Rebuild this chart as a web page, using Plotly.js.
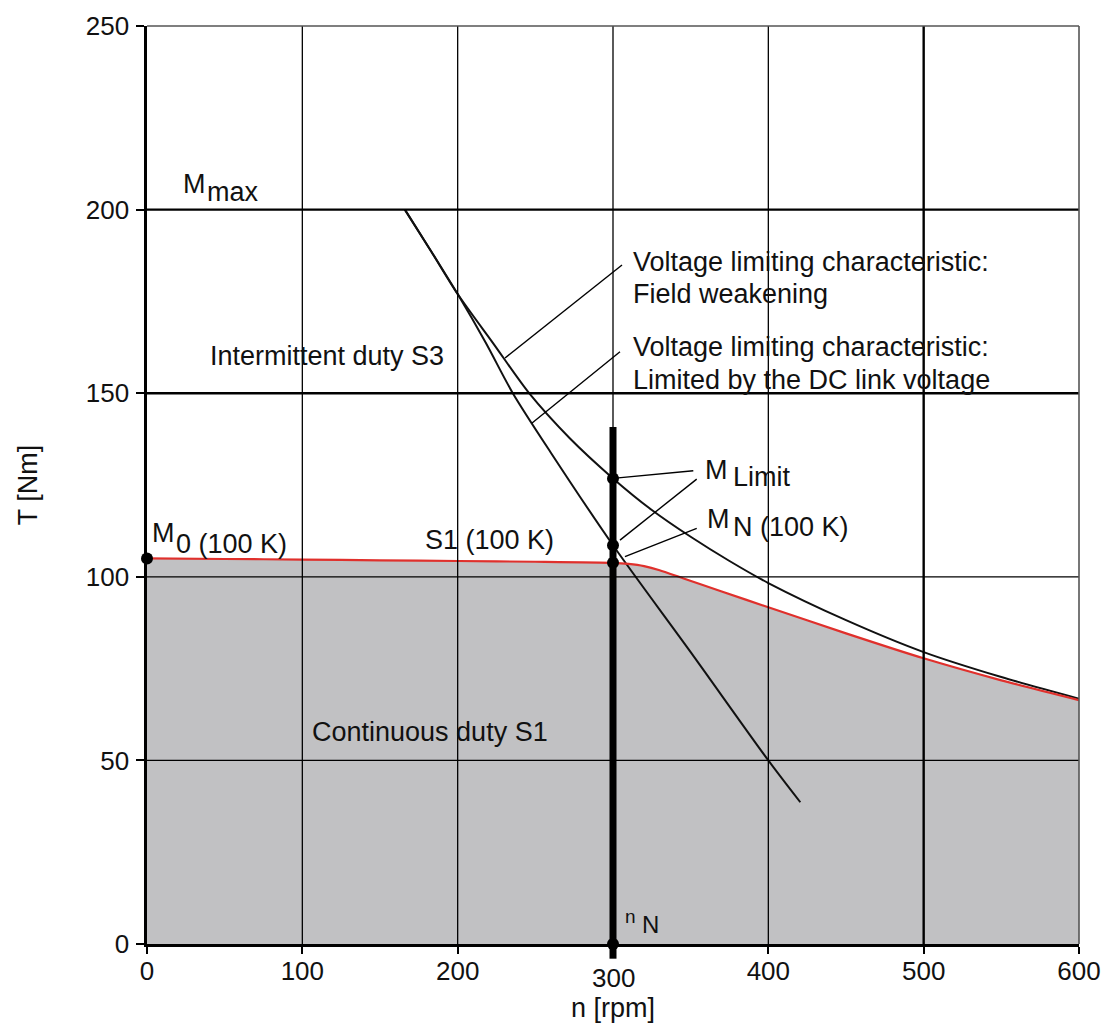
<!DOCTYPE html>
<html>
<head>
<meta charset="utf-8">
<script src="https://cdn.plot.ly/plotly-3.0.1.min.js"></script>
<style>html,body{margin:0;padding:0;background:#fff;}#chart{width:1105px;height:1023px;}</style>
</head>
<body>
<div id="chart"></div>
<script>
// ---- data ----
// Voltage limiting characteristic: field weakening
var nField = [166, 183, 200, 223, 246, 272, 300, 325, 350, 375, 400, 450, 500, 550, 600];
var tField = [200, 188.6, 177, 163.5, 150, 137.8, 126.8, 118.2, 110.9, 104.3, 98.3, 88.2, 79.5, 72.7, 66.8];
// Voltage limiting characteristic: limited by the DC link voltage
var nDC = [166, 183, 200, 218, 235.5, 260, 300, 350, 400, 420.6];
var tDC = [200, 188.6, 177, 163.8, 150, 133.8, 108.6, 79.5, 50, 38.6];
// Continuous duty S1 (100 K)
var nS1 = [0, 50, 100, 150, 200, 250, 300, 310, 320, 330, 345, 370, 400, 450, 500, 550, 600];
var tS1 = [105, 104.85, 104.7, 104.5, 104.3, 104.1, 103.8, 103.5, 102.9, 101.8, 99.6, 96, 91.7, 84.6, 77.8, 71.8, 66.4];
// marked points: M0, M_Limit, intersection, M_N, n_N
var nPts = [0, 300, 300, 300, 300];
var tPts = [105, 126.8, 108.6, 103.8, 0];
// rated speed line
var nRated = [300, 300];
var tRated = [0, 140.8];
// axes
var xTicks = [0, 100, 200, 300, 400, 500, 600];
var xTickText = ['0', '100', '200', '', '400', '500', '600'];
var yTicks = [0, 50, 100, 150, 200, 250];
var xGrid = [100, 200, 300, 400, 500];
var yGrid = [50, 100, 150, 200];

var FONT = 'Liberation Sans, Arial, Helvetica, sans-serif';

var traces = [
  {x: nS1, y: tS1, type: 'scatter', mode: 'lines', fill: 'tozeroy', fillcolor: '#c1c1c3',
   line: {width: 0, color: 'rgba(0,0,0,0)', shape: 'spline', smoothing: 0.6}, hoverinfo: 'skip'},
  {x: nField, y: tField, type: 'scatter', mode: 'lines', line: {color: '#111', width: 2, shape: 'spline', smoothing: 0.8}},
  {x: nDC, y: tDC, type: 'scatter', mode: 'lines', line: {color: '#111', width: 2, shape: 'spline', smoothing: 0.8}},
  {x: nS1, y: tS1, type: 'scatter', mode: 'lines', line: {color: '#e0302c', width: 2.2, shape: 'spline', smoothing: 0.6}},
  {x: nRated, y: tRated, type: 'scatter', mode: 'lines', line: {color: '#000', width: 7}},
  {x: nPts, y: tPts, type: 'scatter', mode: 'markers', cliponaxis: false,
   marker: {color: '#000', size: 12}}
];

var shapes = [];
xGrid.forEach(function (v) {
  shapes.push({type: 'line', xref: 'x', yref: 'y', x0: v, x1: v, y0: 0, y1: 250, layer: 'above',
               line: {color: '#000', width: v === 500 ? 2.4 : 1.3}});
});
yGrid.forEach(function (v) {
  shapes.push({type: 'line', xref: 'x', yref: 'y', x0: 0, x1: 600, y0: v, y1: v, layer: 'above',
               line: {color: '#000', width: v >= 150 ? 2.4 : 1.3}});
});
// top and right frame
shapes.push({type: 'line', xref: 'paper', yref: 'paper', x0: 0, x1: 1, y0: 1, y1: 1, layer: 'above', line: {color: '#555', width: 1.6}});
shapes.push({type: 'line', xref: 'paper', yref: 'paper', x0: 1, x1: 1, y0: 0, y1: 1, layer: 'above', line: {color: '#555', width: 1.6}});
// rated-speed line stub below the axis
shapes.push({type: 'line', xref: 'x', yref: 'paper', x0: nRated[0], x1: nRated[0], y0: -0.016, y1: 0, layer: 'above', line: {color: '#000', width: 7}});
// leader lines
var leaders = [
  [230.5, 159.6, 305.8, 184.9],
  [247.7, 141.8, 304.5, 161.3],
  [300, 126.8, 351.7, 128.9],
  [304.5, 110.0, 353.9, 126.6],
  [307.7, 105.5, 353.9, 113.2]
];
leaders.forEach(function (l) {
  shapes.push({type: 'line', xref: 'x', yref: 'y', x0: l[0], y0: l[1], x1: l[2], y1: l[3], layer: 'above',
               line: {color: '#000', width: 1.4}});
});

function txt(t, x, y, size) {
  return {text: t, x: x, y: y, xref: 'x', yref: 'y', xanchor: 'left', yanchor: 'middle', showarrow: false,
          font: {family: FONT, size: size || 27, color: '#111'}};
}
var annotations = [
  txt('M', 21.9, 207.1),
  txt('max', 37.3, 204.9),
  txt('Intermittent duty S3', 39.3, 160.0),
  txt('Voltage limiting characteristic:', 311.6, 185.6),
  txt('Field weakening', 311.6, 177.1),
  txt('Voltage limiting characteristic:', 311.6, 162.5),
  txt('Limited by the DC link voltage', 311.6, 153.7),
  txt('M', 357.9, 129.1),
  txt('Limit', 375.8, 127.3),
  txt('M', 359.0, 115.8),
  txt('N (100 K)', 376.2, 113.5),
  txt('M', 2.1, 112.0),
  txt('0 (100 K)', 17.2, 109.0),
  txt('S1 (100 K)', 177.7, 110.0),
  txt('Continuous duty S1', 104.7, 57.7),
  txt('n', 306.4, 7.6, 19),
  txt('N', 317.2, 5.2, 24),
  {text: '300', x: 300, xref: 'x', y: -0.0185, yref: 'paper', xanchor: 'center', yanchor: 'top', showarrow: false,
   font: {family: FONT, size: 26, color: '#111'}}
];

var layout = {
  width: 1105, height: 1023,
  margin: {l: 147, r: 26, t: 26, b: 79, pad: 0},
  paper_bgcolor: '#fff', plot_bgcolor: '#fff',
  showlegend: false,
  font: {family: FONT, color: '#111'},
  xaxis: {
    range: [0, 600], autorange: false, fixedrange: true,
    showgrid: false, zeroline: false,
    showline: true, linecolor: '#000', linewidth: 2.6,
    ticks: 'outside', ticklen: 7, tickwidth: 2, tickcolor: '#000',
    tickvals: xTicks, ticktext: xTickText, ticklabelstandoff: -5,
    tickfont: {family: FONT, size: 26, color: '#111'},
    title: {text: 'n [rpm]', font: {family: FONT, size: 27, color: '#111'}, standoff: 21}
  },
  yaxis: {
    range: [0, 250], autorange: false, fixedrange: true,
    showgrid: false, zeroline: false,
    showline: true, linecolor: '#000', linewidth: 2.6,
    ticks: 'outside', ticklen: 8, tickwidth: 2, tickcolor: '#000',
    tickvals: yTicks, ticklabelstandoff: 2,
    tickfont: {family: FONT, size: 26, color: '#111'},
    title: {text: 'T [Nm]', font: {family: FONT, size: 27, color: '#111'}, standoff: 41}
  },
  shapes: shapes,
  annotations: annotations
};

Plotly.newPlot('chart', traces, layout, {staticPlot: true, displayModeBar: false});
</script>
</body>
</html>
